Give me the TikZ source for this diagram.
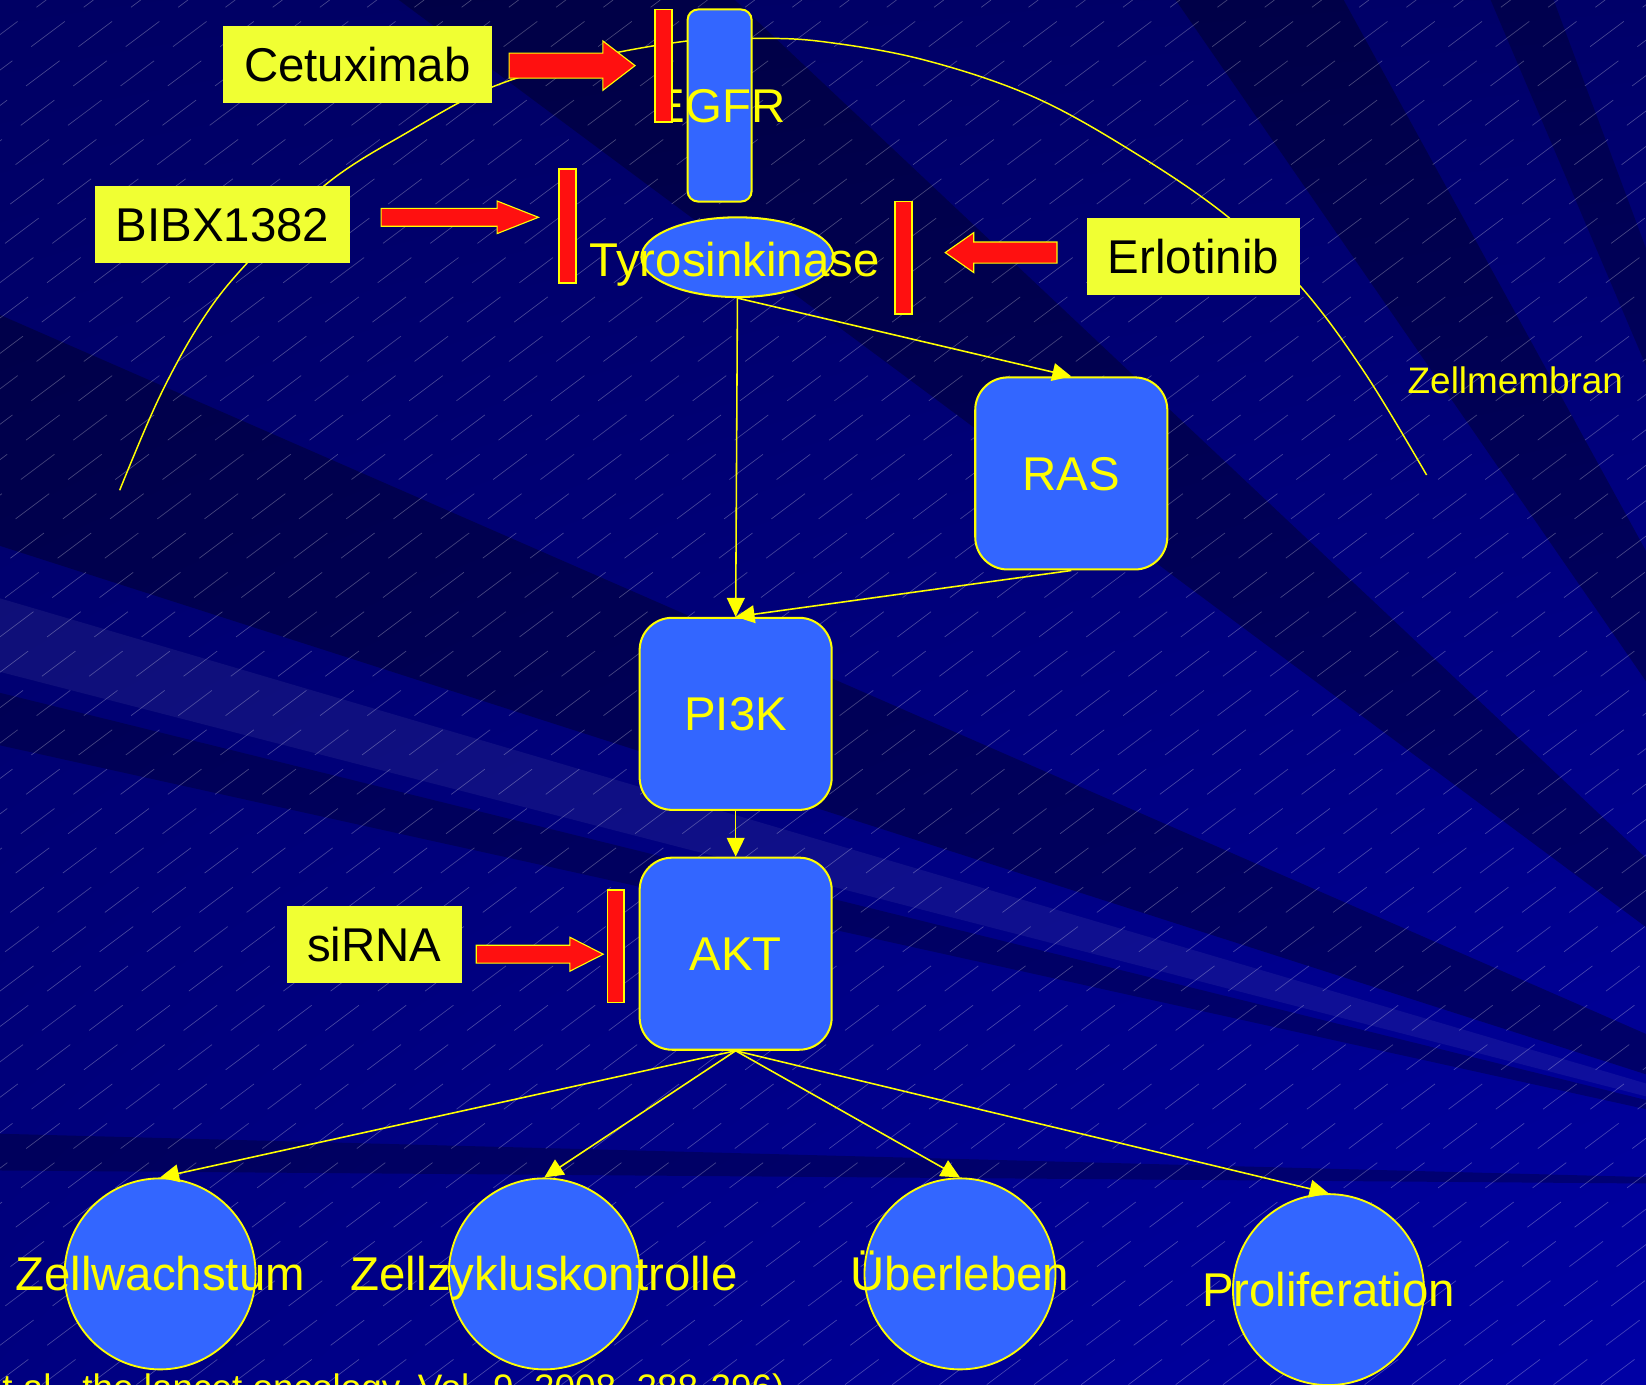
\documentclass[tikz,border=0pt]{standalone}
\usepackage{fontspec}
\setmainfont{Liberation Sans}
\usepackage{tikz}
\usetikzlibrary{shapes,arrows,positioning,calc,arrows.meta,shadings}
\usepackage{xcolor}

\definecolor{blau}{RGB}{51,102,255}
\definecolor{gelb}{RGB}{255,255,0}
\definecolor{hellgelb}{RGB}{240,255,51}
\definecolor{rot}{RGB}{255,16,16}
\definecolor{bgul}{RGB}{0,0,100}
\definecolor{bgur}{RGB}{0,0,105}
\definecolor{bgll}{RGB}{0,0,128}
\definecolor{bglr}{RGB}{0,0,165}

\newcommand{\grossschrift}{\fontsize{25.7}{30}\selectfont}
\newcommand{\kleinschrift}{\fontsize{20}{24}\selectfont}

\begin{document}
\begin{tikzpicture}[
    x=0.02cm, y=-0.02cm,
    block/.style={rectangle, draw=gelb, fill=blau, line width=1.1pt, rounded corners=0.62cm, minimum width=3.66cm, minimum height=3.66cm, inner sep=0pt, font=\grossschrift, text=gelb, text height=18.4pt, text depth=0pt},
    receptor/.style={rectangle, draw=gelb, fill=blau, line width=1.1pt, rounded corners=0.2cm, minimum width=1.22cm, minimum height=3.66cm, inner sep=0pt},
    kinase/.style={ellipse, draw=gelb, fill=blau, line width=1.1pt, minimum width=3.66cm, minimum height=1.52cm, inner sep=0pt},
    effect/.style={circle, draw=gelb, fill=blau, line width=1pt, minimum size=3.64cm, inner sep=0pt},
    tag/.style={font=\grossschrift, text=gelb, inner sep=0pt, text height=18.4pt, text depth=0pt},
    drug/.style={rectangle, fill=hellgelb, minimum height=1.46cm, inner sep=0pt, font=\grossschrift, text=black, text height=18.4pt, text depth=0pt},
    inhibit/.style={rectangle, fill=rot, draw=gelb, line width=0.8pt, minimum width=0.32cm, minimum height=2.14cm, inner sep=0pt},
    blockarrow/.style={single arrow, fill=rot, draw=gelb, line width=0.6pt, inner xsep=0pt, minimum width=0pt, single arrow head indent=0pt},
    link/.style={draw=gelb, line width=0.85pt, -{Triangle[length=0.36cm, width=0.34cm]}},
    hatch/.style={white, opacity=0.28, line width=0.35pt, dash pattern=on 0.8cm off 0.45cm},
    membrane/.style={gelb, line width=0.8pt}
]
    \useasboundingbox (0,0) rectangle (1568,1319);
    \clip (0,0) rectangle (1568,1319);

    % Background
    \shade[upper left=bgul, upper right=bgur, lower left=bgll, lower right=bglr] (0,0) rectangle (1568,1319);
    \fill[black, opacity=0.3] (1900,1130) -- (380,0) -- (700,0) -- cycle;
    \fill[black, opacity=0.3] (1900,1130) -- (0,300) -- (0,520) -- cycle;
    \fill[black, opacity=0.25] (1900,1130) -- (0,660) -- (0,710) -- cycle;
    \fill[black, opacity=0.25] (1900,1130) -- (0,1080) -- (0,1115) -- cycle;
    \fill[black, opacity=0.3] (1900,1130) -- (1120,0) -- (1280,0) -- cycle;
    \fill[black, opacity=0.25] (1900,1130) -- (1420,0) -- (1480,0) -- cycle;
    \fill[white, opacity=0.06] (1900,1130) -- (0,570) -- (0,640) -- cycle;
    \foreach \i in {-1760,-1715,...,1568}
        \draw[hatch] (\i,1319) -- ++(1759,-1319);

    % Zellmembran
    \draw[membrane] plot[smooth, tension=0.6] coordinates {(114,467) (152,378) (192.5,305) (235,251) (310,176) (390,125) (468.6,83) (560,56) (655,39) (720,36.5) (784,39.7) (880,57) (984,92) (1080,145) (1169,206) (1239,273) (1300,355) (1359,452.5)};
    \node[font=\kleinschrift, text=gelb, inner sep=0pt, text height=14.3pt, text depth=0pt] (membran) at (1443.5,362.7) {Zellmembran};

    % Rezeptor
    \node[receptor] (egfr) at (685.5,100.5) {};
    \node[tag] (egfrtext) at (685.5,101) {EGFR};
    \node[kinase] (tk) at (702.5,245) {};
    \node[tag] (tktext) at (700,247) {Tyrosinkinase};

    % Signalweg
    \node[block] (ras) at (1020.5,451) {RAS};
    \node[block] (pi3k) at (700.8,680) {PI3K};
    \node[block] (akt) at (700.8,908.5) {AKT};

    % Wirkungen
    \node[effect] (wachstum) at (152.5,1213.5) {};
    \node[effect] (zyklus) at (518.5,1213.5) {};
    \node[effect] (ueberleben) at (914.5,1213.5) {};
    \node[effect] (prolif) at (1265.5,1228.5) {};

    \draw[link] (tk.south) -- (pi3k.north);
    \draw[link] (tk.south) -- (ras.north);
    \draw[link] (ras.south) -- (pi3k.north);
    \draw[link] (pi3k.south) -- (akt.north);
    \draw[link] (akt.south) -- (wachstum.north);
    \draw[link] (akt.south) -- (zyklus.north);
    \draw[link] (akt.south) -- (ueberleben.north);
    \draw[link] (akt.south) -- (prolif.north);

    \node[tag] at (wachstum) {Zellwachstum};
    \node[tag] at (zyklus) {Zellzykluskontrolle};
    \node[tag] at (ueberleben) {Überleben};
    \node[tag] at (prolif) {Proliferation};

    % Hemmstoffe
    \node[drug, minimum width=5.12cm] (cetux) at (340.5,61.3) {Cetuximab};
    \node[drug, minimum width=4.86cm] (bibx) at (212,213.7) {BIBX1382};
    \node[drug, minimum width=4.06cm] (erlo) at (1137,244.5) {Erlotinib};
    \node[drug, minimum width=3.34cm] (sirna) at (356.5,899.5) {siRNA};

    \node[inhibit] (cetuxbar) at (632,62.5) {};
    \node[inhibit, minimum height=2.17cm] (bibxbar) at (540.6,215.2) {};
    \node[inhibit] (erlobar) at (860.8,245.4) {};
    \node[inhibit] (sirnabar) at (586.5,901.5) {};

    \node[blockarrow, inner ysep=0.228cm, single arrow head extend=0.232cm, single arrow tip angle=75, minimum height=2.4cm, anchor=tip] (cetuxarrow) at ([xshift=-0.35cm]cetuxbar.west) {};
    \node[blockarrow, inner ysep=0.16cm, single arrow head extend=0.14cm, single arrow tip angle=43, minimum height=3.0cm, anchor=tip] (bibxarrow) at ([xshift=-0.35cm, yshift=0.164cm]bibxbar.west) {};
    \node[blockarrow, inner ysep=0.19cm, single arrow head extend=0.18cm, single arrow tip angle=70, minimum height=2.13cm, shape border rotate=180, anchor=tip] (erloarrow) at ([xshift=0.6cm, yshift=0.096cm]erlobar.east) {};
    \node[blockarrow, inner ysep=0.16cm, single arrow head extend=0.154cm, single arrow tip angle=54, minimum height=2.42cm, anchor=tip] (sirnaarrow) at ([xshift=-0.04cm, yshift=-0.15cm]sirnabar.west) {};

    \node[font=\kleinschrift, text=gelb, inner sep=0pt, anchor=base west] (quelle) at (2,1334) {t al., the lancet oncology, Vol. 9, 2008, 288-296)};
\end{tikzpicture}
\end{document}
